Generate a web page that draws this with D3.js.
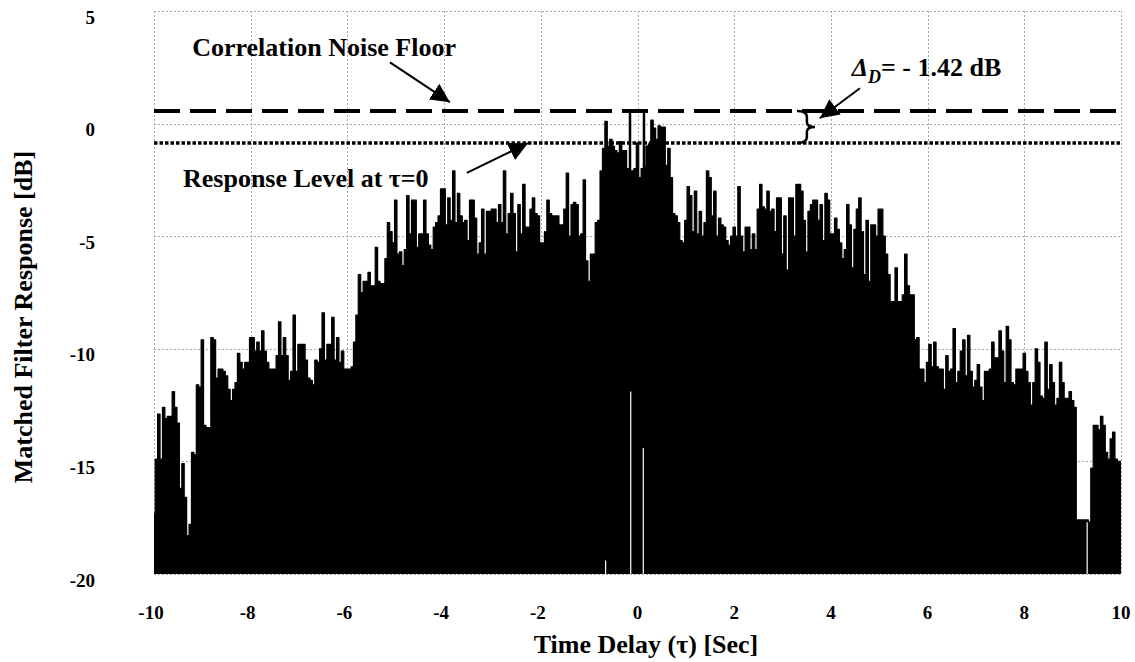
<!DOCTYPE html>
<meta charset="utf-8">
<style>
  body { margin: 0; background: #fff; }
  text {
    font-family: "Liberation Serif", "Times New Roman", Times, serif;
    font-weight: bold;
    fill: #000;
  }
  .grid line {
    stroke: #a8a8a8;
    stroke-width: 1;
    stroke-dasharray: 2,2;
    shape-rendering: crispEdges;
  }
</style>
<body>
<svg width="1135" height="662"></svg>
<script src="https://cdn.jsdelivr.net/npm/d3@7"></script>
<script>
// matched filter output, one sample every 0.05 s from -10 s to +10 s (dB)
var tauStart = -10, tauStep = 0.05;
var level = [
  -17.3, -14.9, -12.9, -14.9, -12.6, -13.1, -13.0, -13.0, -11.9, -12.6,
  -13.3, -16.2, -15.1, -16.6, -18.3, -17.8, -14.6, -14.7, -11.6, -11.7,
  -9.6, -13.4, -13.5, -13.5, -9.5, -9.6, -11.3, -10.9, -10.9, -11.0,
  -11.2, -11.8, -12.3, -11.8, -11.5, -10.2, -10.6, -10.9, -10.6, -10.6,
  -9.5, -9.5, -10.1, -9.7, -10.1, -9.2, -10.1, -10.6, -10.9, -10.9,
  -10.9, -10.3, -8.8, -10.3, -9.5, -10.3, -11.4, -11.0, -8.5, -11.0,
  -9.8, -9.8, -9.8, -10.5, -11.3, -11.4, -11.6, -10.5, -10.6, -10.0,
  -8.4, -10.5, -9.8, -9.8, -8.6, -10.5, -9.5, -10.6, -10.1, -10.9,
  -10.9, -10.9, -10.8, -9.7, -8.5, -6.7, -7.5, -7.0, -7.0, -6.6,
  -7.2, -7.2, -5.5, -7.0, -7.1, -7.1, -6.0, -4.4, -4.8, -5.3,
  -3.4, -5.8, -5.7, -6.3, -5.6, -3.2, -4.9, -3.4, -3.4, -5.5,
  -4.9, -4.9, -3.4, -4.9, -5.4, -5.6, -4.6, -4.4, -4.1, -2.9,
  -2.9, -4.5, -3.3, -4.3, -2.1, -4.4, -3.1, -4.1, -4.4, -4.3,
  -5.2, -3.4, -3.4, -4.2, -5.8, -5.3, -3.8, -5.8, -3.9, -3.9,
  -3.8, -3.8, -4.4, -3.6, -4.4, -2.1, -4.9, -4.0, -3.1, -4.0,
  -5.7, -3.6, -4.9, -2.7, -4.6, -4.6, -3.8, -3.3, -4.0, -4.1,
  -5.3, -5.3, -4.8, -3.4, -4.0, -4.1, -4.1, -4.1, -4.5, -4.5,
  -3.8, -2.2, -5.0, -3.6, -3.5, -3.6, -5.0, -4.9, -2.5, -6.1,
  -7.0, -5.8, -5.8, -4.4, -4.3, -2.1, -1.1, 0.1, -1.0, -0.7,
  -1.0, -1.2, -1.3, -0.8, -1.2, -1.2, -2.0, -2.1, -2.1, -2.0,
  -0.86, -2.4, -2.0, -1.9, -1.0, -0.9, 0.15, -0.2, -0.7, -0.1,
  -0.15, -0.15, -1.85, -1.1, -2.4, -4.0, -4.1, -4.4, -5.2, -5.3,
  -4.3, -2.8, -3.2, -4.8, -3.0, -4.9, -3.9, -5.0, -4.4, -2.1,
  -2.4, -4.1, -3.0, -5.0, -4.2, -4.5, -4.6, -5.2, -5.4, -5.0,
  -4.6, -5.0, -2.8, -5.0, -5.7, -4.6, -4.6, -5.6, -4.9, -5.6,
  -3.8, -2.7, -3.7, -3.8, -3.0, -3.9, -3.8, -4.8, -3.3, -3.3,
  -5.8, -4.1, -6.5, -3.3, -3.3, -5.0, -2.7, -2.7, -3.0, -4.3,
  -5.7, -3.9, -3.6, -3.4, -3.4, -4.3, -3.6, -5.2, -3.1, -3.4,
  -4.9, -4.9, -4.2, -4.7, -5.3, -6.0, -5.6, -3.6, -4.5, -6.4,
  -4.7, -3.8, -3.3, -4.8, -6.7, -4.3, -7.0, -4.5, -4.5, -5.0,
  -3.8, -3.8, -5.0, -5.8, -6.7, -7.9, -7.9, -6.4, -7.9, -7.9,
  -7.6, -5.8, -7.2, -7.6, -7.6, -9.6, -9.5, -10.9, -10.9, -11.5,
  -10.6, -9.8, -10.8, -9.7, -10.8, -10.9, -10.9, -11.8, -10.3, -11.0,
  -10.9, -9.1, -11.5, -11.0, -10.1, -9.6, -11.2, -9.4, -11.0, -11.7,
  -11.4, -10.7, -11.7, -12.3, -11.0, -11.0, -10.9, -9.7, -10.4, -10.4,
  -9.2, -10.1, -11.5, -9.0, -9.6, -11.5, -11.6, -10.9, -10.9, -10.9,
  -10.2, -11.0, -11.5, -12.5, -11.5, -10.0, -10.6, -12.1, -12.2, -9.7,
  -11.8, -10.7, -11.5, -12.5, -12.2, -10.6, -11.5, -12.2, -12.2, -11.9,
  -12.3, -12.6, -17.6, -17.6, -17.6, -17.6, -17.6, -17.7, -15.3, -13.4,
  -13.4, -13.6, -13.0, -13.4, -14.6, -14.9, -14.0, -13.7, -14.9, -15.0,
  -15.0
];

// narrow nulls that drop to the floor (white slits in the fill)
var nullTau = [-0.14, 0.12, -0.66, 9.3];
var nullTop = [-11.9, -14.4, -19.4, -17.7];

// main lobe outline around tau = 0
var lobeTau = [-0.155, 0.134];
var lobeBase = [-2.1, -2.0];

var noiseFloor = 0.56;     // dashed
var responseLevel = -0.86; // dotted

var xTicks = [-10, -8, -6, -4, -2, 0, 2, 4, 6, 8, 10];
var yTicks = [5, 0, -5, -10, -15, -20];

var svg = d3.select("svg");

var x = d3.scaleLinear().domain([-10, 10]).range([154, 1121]);
var y = d3.scaleLinear().domain([-20, 5]).range([574, 11]);

// arrow head
svg.append("defs").append("marker")
    .attr("id", "head")
    .attr("viewBox", "0 0 10 10")
    .attr("markerUnits", "userSpaceOnUse")
    .attr("markerWidth", 19)
    .attr("markerHeight", 19)
    .attr("refX", 10)
    .attr("refY", 5)
    .attr("orient", "auto")
  .append("path")
    .attr("d", "M0,0L10,5L0,10z")
    .attr("fill", "#000");

svg.append("clipPath").attr("id", "plot")
  .append("rect")
    .attr("x", x(-10)).attr("y", y(5))
    .attr("width", x(10) - x(-10)).attr("height", y(-20) - y(5));

// grid
var grid = svg.append("g").attr("class", "grid");
grid.selectAll(".gx").data(xTicks).enter().append("line")
    .attr("x1", function(d) { return Math.round(x(d)) + 0.5; })
    .attr("x2", function(d) { return Math.round(x(d)) + 0.5; })
    .attr("y1", y(5)).attr("y2", y(-20));
grid.selectAll(".gy").data(yTicks).enter().append("line")
    .attr("x1", x(-10)).attr("x2", x(10))
    .attr("y1", function(d) { return Math.round(y(d)) + 0.5; })
    .attr("y2", function(d) { return Math.round(y(d)) + 0.5; });

// response
var tau = function(d, i) { return x(tauStart + i * tauStep); };

var area = d3.area()
    .x(tau)
    .y0(y(-20))
    .y1(function(d) { return y(d); })
    .curve(d3.curveStep);

var line = d3.line()
    .x(tau)
    .y(function(d) { return y(d); })
    .curve(d3.curveStep);

var plot = svg.append("g").attr("clip-path", "url(#plot)");

plot.append("path")
    .datum(level)
    .attr("d", area)
    .attr("fill", "#000");

plot.append("path")
    .datum(level)
    .attr("d", line)
    .attr("fill", "none")
    .attr("stroke", "#000")
    .attr("stroke-width", 1.2)
    .attr("stroke-linejoin", "round");

plot.selectAll(".null")
    .data(nullTau)
    .enter().append("line")
    .attr("x1", function(d) { return x(d); })
    .attr("x2", function(d) { return x(d); })
    .attr("y1", y(-20))
    .attr("y2", function(d, i) { return y(nullTop[i]); })
    .attr("stroke", "#fff")
    .attr("stroke-width", 1.2);

svg.append("path")
    .attr("d", "M" + x(lobeTau[0]) + "," + y(lobeBase[0]) +
               "V" + y(noiseFloor) +
               "H" + x(lobeTau[1]) +
               "V" + y(lobeBase[1]))
    .attr("fill", "none")
    .attr("stroke", "#000")
    .attr("stroke-width", 2.5);

// reference levels
svg.append("line")
    .attr("x1", x(-10)).attr("x2", x(10))
    .attr("y1", y(noiseFloor)).attr("y2", y(noiseFloor))
    .attr("stroke", "#000")
    .attr("stroke-width", 4)
    .attr("stroke-dasharray", "26,10");

svg.append("line")
    .attr("x1", x(-10)).attr("x2", x(10))
    .attr("y1", y(responseLevel)).attr("y2", y(responseLevel))
    .attr("stroke", "#000")
    .attr("stroke-width", 3.5)
    .attr("stroke-dasharray", "3.5,2");

// axes labels
svg.selectAll(".ytick")
    .data(yTicks)
    .enter().append("text")
    .attr("x", 95)
    .attr("y", function(d) { return y(d) + 12.5; })
    .attr("text-anchor", "end")
    .style("font-size", "19px")
    .text(function(d) { return d; });

svg.selectAll(".xtick")
    .data(xTicks)
    .enter().append("text")
    .attr("x", function(d) { return x(d) - (d < 0 ? 3 : 0); })
    .attr("y", 618.5)
    .attr("text-anchor", "middle")
    .style("font-size", "19px")
    .text(function(d) { return d; });

svg.append("text")
    .attr("transform", "translate(32,317) rotate(-90)")
    .attr("text-anchor", "middle")
    .style("font-size", "26px")
    .text("Matched Filter Response [dB]");

svg.append("text")
    .attr("x", 646)
    .attr("y", 653)
    .attr("text-anchor", "middle")
    .style("font-size", "26px")
    .text("Time Delay (\u03c4) [Sec]");

// annotations
function arrow(t0, v0, t1, v1) {
  svg.append("line")
      .attr("x1", x(t0)).attr("y1", y(v0))
      .attr("x2", x(t1)).attr("y2", y(v1))
      .attr("stroke", "#000")
      .attr("stroke-width", 2)
      .attr("marker-end", "url(#head)");
}

svg.append("text")
    .attr("x", x(-9.21))
    .attr("y", y(2.99))
    .style("font-size", "26px")
    .text("Correlation Noise Floor");
arrow(-5.12, 2.72, -3.88, 0.95);

svg.append("text")
    .attr("x", x(-9.40))
    .attr("y", y(-2.83))
    .style("font-size", "26px")
    .text("Response Level at \u03c4=0");
arrow(-3.53, -2.19, -2.265, -0.87);

var delta = svg.append("text")
    .attr("x", x(4.43))
    .attr("y", y(2.10))
    .style("font-size", "26px");
delta.append("tspan").style("font-style", "italic").text("\u0394");
delta.append("tspan").style("font-style", "italic").style("font-size", "18px")
    .attr("dy", 7).text("D");
delta.append("tspan").attr("dy", -7).text("= - 1.42 dB");
arrow(4.60, 1.57, 3.77, 0.24);

// brace between the two levels
var bx0 = x(3.30), bx1 = x(3.67),
    yt = y(noiseFloor), yb = y(responseLevel), ym = (yt + yb) / 2,
    bm = bx0 + (bx1 - bx0) * 0.55;
svg.append("path")
    .attr("d", "M" + bx0 + "," + yt +
               "Q" + bm + "," + yt + " " + bm + "," + (yt + 6) +
               "L" + bm + "," + (ym - 5) +
               "Q" + bm + "," + ym + " " + bx1 + "," + ym +
               "Q" + bm + "," + ym + " " + bm + "," + (ym + 5) +
               "L" + bm + "," + (yb - 6) +
               "Q" + bm + "," + yb + " " + bx0 + "," + yb)
    .attr("fill", "none")
    .attr("stroke", "#000")
    .attr("stroke-width", 2.5);
</script>
